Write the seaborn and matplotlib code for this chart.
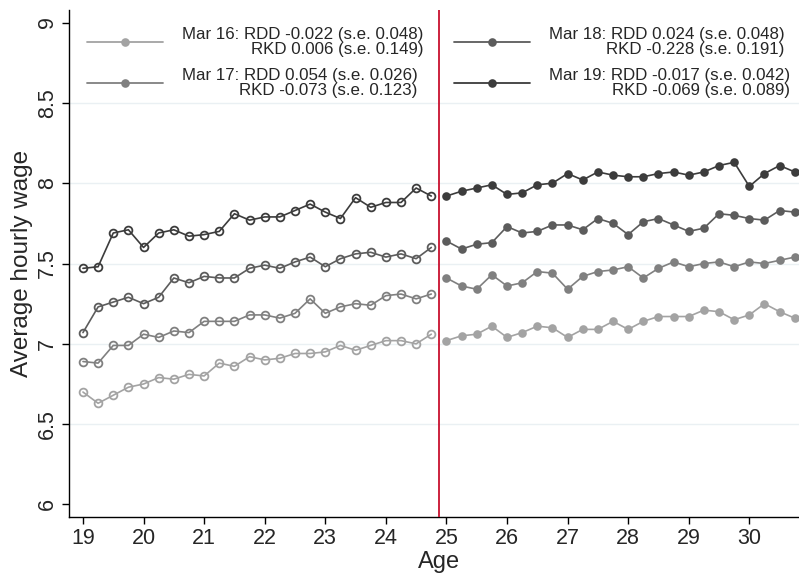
import matplotlib
matplotlib.use("Agg")
import matplotlib.pyplot as plt
import seaborn as sns
import pandas as pd
from matplotlib.lines import Line2D

sns.set_theme(style="white")
plt.rcParams['font.family'] = ['Liberation Sans', 'DejaVu Sans']

ages_left = [19.0, 19.25, 19.5, 19.75, 20.0, 20.25, 20.5, 20.75, 21.0, 21.25, 21.5, 21.75,
             22.0, 22.25, 22.5, 22.75, 23.0, 23.25, 23.5, 23.75, 24.0, 24.25, 24.5, 24.75]
ages_right = [25.0, 25.25, 25.5, 25.75, 26.0, 26.25, 26.5, 26.75, 27.0, 27.25, 27.5, 27.75,
              28.0, 28.25, 28.5, 28.75, 29.0, 29.25, 29.5, 29.75, 30.0, 30.25, 30.5, 30.75]

mar16_left = [6.70, 6.63, 6.68, 6.73, 6.75, 6.79, 6.78, 6.81, 6.80, 6.88, 6.86, 6.92,
              6.90, 6.91, 6.94, 6.94, 6.95, 6.99, 6.96, 6.99, 7.02, 7.02, 7.00, 7.06]
mar17_left = [6.89, 6.88, 6.99, 6.99, 7.06, 7.04, 7.08, 7.07, 7.14, 7.14, 7.14, 7.18,
              7.18, 7.16, 7.19, 7.28, 7.19, 7.23, 7.25, 7.24, 7.30, 7.31, 7.28, 7.31]
mar18_left = [7.07, 7.23, 7.26, 7.29, 7.25, 7.29, 7.41, 7.38, 7.42, 7.41, 7.41, 7.47,
              7.49, 7.47, 7.51, 7.54, 7.48, 7.53, 7.56, 7.57, 7.54, 7.56, 7.53, 7.60]
mar19_left = [7.47, 7.48, 7.69, 7.71, 7.60, 7.69, 7.71, 7.67, 7.68, 7.70, 7.81, 7.77,
              7.79, 7.79, 7.83, 7.87, 7.82, 7.78, 7.91, 7.85, 7.88, 7.88, 7.97, 7.92]

mar16_right = [7.02, 7.05, 7.06, 7.11, 7.04, 7.07, 7.11, 7.10, 7.04, 7.09, 7.09, 7.14,
               7.09, 7.14, 7.17, 7.17, 7.17, 7.21, 7.20, 7.15, 7.18, 7.25, 7.20, 7.16]
mar17_right = [7.41, 7.36, 7.34, 7.43, 7.36, 7.38, 7.45, 7.44, 7.34, 7.42, 7.45, 7.46,
               7.48, 7.41, 7.47, 7.51, 7.48, 7.50, 7.51, 7.48, 7.51, 7.50, 7.52, 7.54]
mar18_right = [7.64, 7.59, 7.62, 7.63, 7.73, 7.69, 7.70, 7.74, 7.74, 7.71, 7.78, 7.75,
               7.68, 7.76, 7.78, 7.74, 7.70, 7.72, 7.81, 7.80, 7.78, 7.77, 7.83, 7.82]
mar19_right = [7.92, 7.95, 7.97, 7.99, 7.93, 7.94, 7.99, 8.00, 8.06, 8.02, 8.07, 8.05,
               8.04, 8.04, 8.06, 8.07, 8.05, 8.07, 8.11, 8.13, 7.98, 8.06, 8.11, 8.07]

series_names = ["Mar 16", "Mar 17", "Mar 18", "Mar 19"]
legend_labels = ["Mar 16: RDD -0.022 (s.e. 0.048)\nRKD 0.006 (s.e. 0.149)",
                 "Mar 17: RDD 0.054 (s.e. 0.026)\nRKD -0.073 (s.e. 0.123)",
                 "Mar 18: RDD 0.024 (s.e. 0.048)\nRKD -0.228 (s.e. 0.191)",
                 "Mar 19: RDD -0.017 (s.e. 0.042)\nRKD -0.069 (s.e. 0.089)"]
colors = ["#a3a3a3", "#808080", "#5c5c5c", "#3c3c3c"]
cutoff = 24.875

y_ticks = [6, 6.5, 7, 7.5, 8, 8.5, 9]
y_ticklabels = ["6", "6.5", "7", "7.5", "8", "8.5", "9"]
x_ticks = [19, 20, 21, 22, 23, 24, 25, 26, 27, 28, 29, 30]

left_vals = [mar16_left, mar17_left, mar18_left, mar19_left]
right_vals = [mar16_right, mar17_right, mar18_right, mar19_right]

fig = plt.figure(figsize=(7.99, 5.76), dpi=100)
ax = fig.add_axes([0.0864, 0.1024, 0.9136, 0.8802])

for vals, col in zip(left_vals, colors):
    df = pd.DataFrame({"age": ages_left, "wage": vals})
    sns.lineplot(data=df, x="age", y="wage", ax=ax, color=col, lw=1.2,
                 marker="o", markersize=5.6, markerfacecolor="none",
                 markeredgecolor=col, markeredgewidth=1.3, zorder=3)
for vals, col in zip(right_vals, colors):
    df = pd.DataFrame({"age": ages_right, "wage": vals})
    sns.lineplot(data=df, x="age", y="wage", ax=ax, color=col, lw=1.2,
                 marker="o", markersize=6.2, markeredgewidth=0, zorder=3)

ax.axvline(cutoff, color="#c8102e", lw=1.3, zorder=4)

ax.set_xlim(18.77, 30.82)
ax.set_ylim(5.922, 9.078)
ax.set_yticks(y_ticks)
ax.set_yticklabels(y_ticklabels, rotation=90, va="center")
ax.set_xticks(x_ticks)
for yv in y_ticks[1:-1]:
    ax.axhline(yv, color="#eaf0f3", lw=1.0, zorder=1)

tick_font = ['Liberation Sans Narrow', 'Liberation Sans', 'DejaVu Sans']
for lab in ax.get_xticklabels() + ax.get_yticklabels():
    lab.set_family(tick_font)
    lab.set_fontsize(15.5)
ax.tick_params(axis="both", direction="out", length=5, width=1, color="black",
               left=True, bottom=True, pad=3)
ax.set_xlabel("Age", fontsize=17, family=tick_font)
ax.xaxis.set_label_coords(0.507, -0.068)
ax.set_ylabel("Average hourly wage", fontsize=17.5, labelpad=3)

for side in ["top", "right"]:
    ax.spines[side].set_visible(False)
for side in ["left", "bottom"]:
    ax.spines[side].set_color("black")
    ax.spines[side].set_linewidth(1.0)

handles = [Line2D([0], [0], color=c, lw=1.3, marker="o", markersize=6.2,
                  markeredgewidth=0) for c in colors]
leg = ax.legend(handles, legend_labels, ncol=2, loc="upper left",
                bbox_to_anchor=(0.0247, 0.966), frameon=False, fontsize=12.15,
                handlelength=4.5, handletextpad=1.12, columnspacing=1.83,
                labelspacing=0.68, borderpad=0, borderaxespad=0)
for t in leg.get_texts():
    t.set_multialignment("right")
    t.set_linespacing(0.95)

fig.savefig("out.png", dpi=100)
